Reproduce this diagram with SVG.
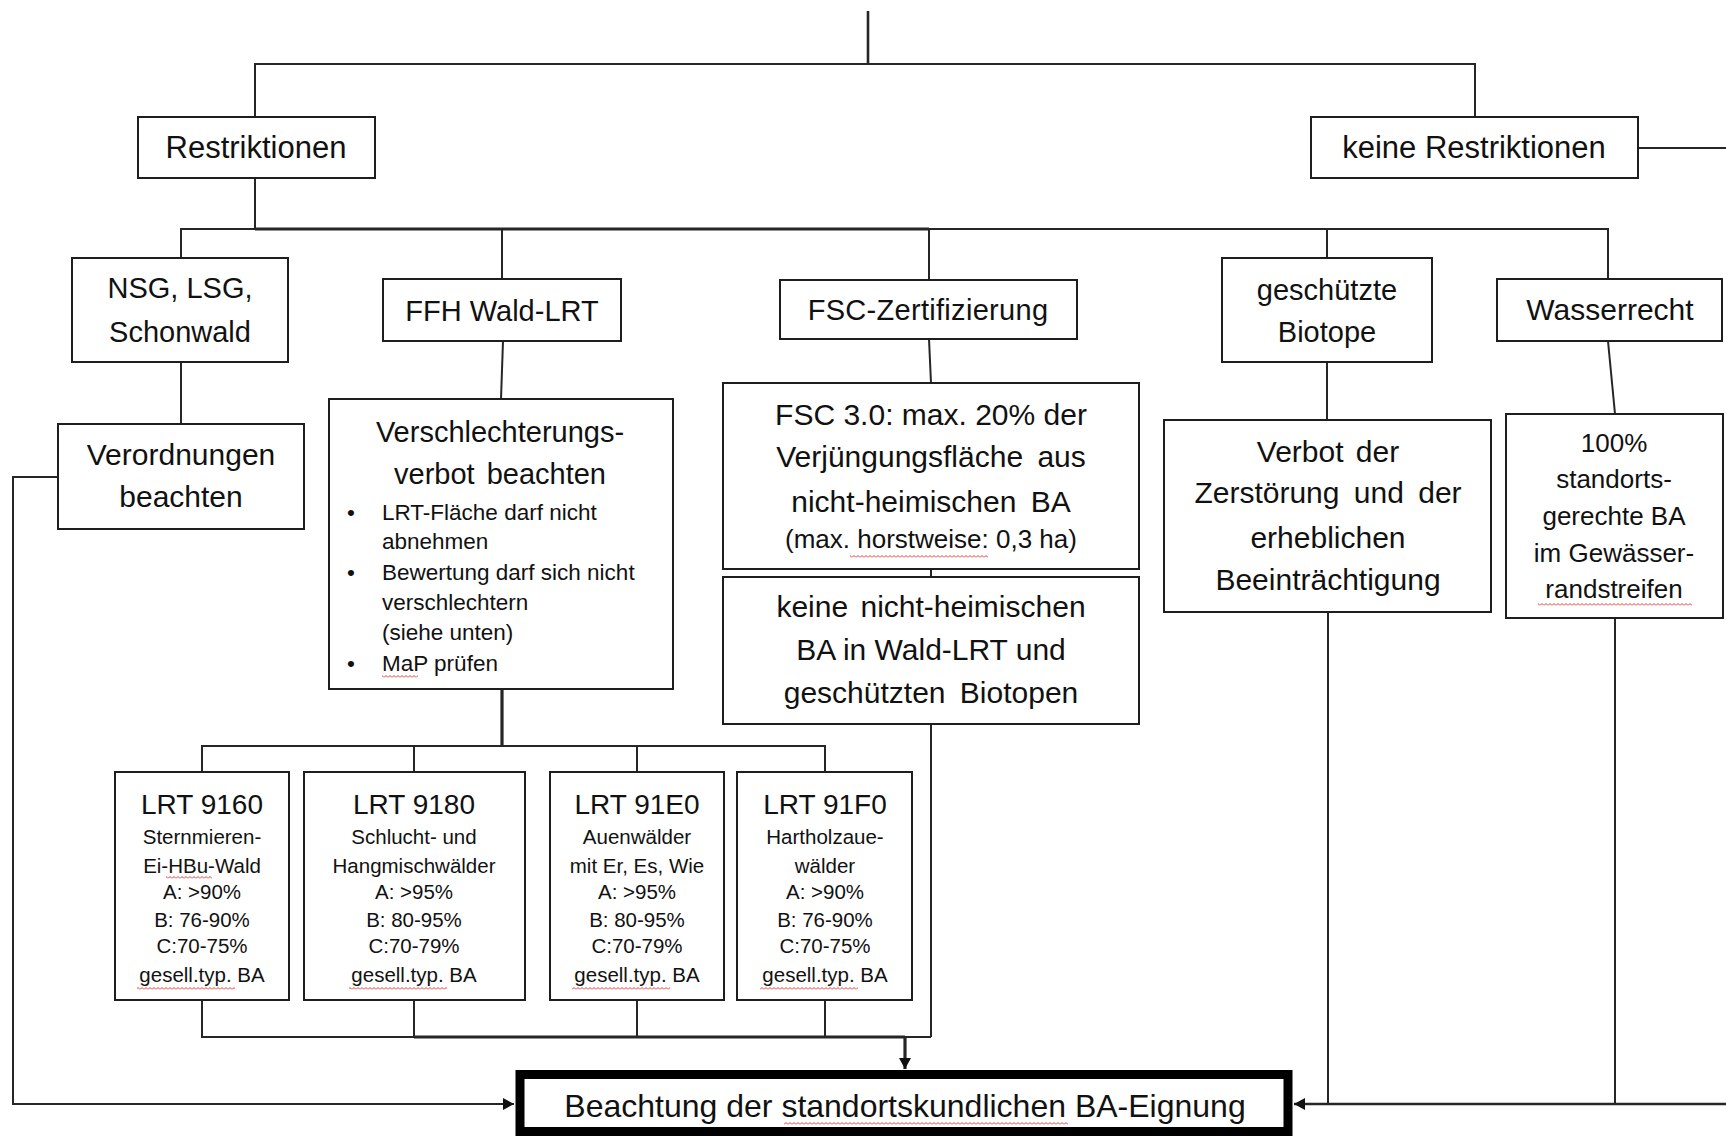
<svg xmlns="http://www.w3.org/2000/svg" width="1726" height="1136" viewBox="0 0 1726 1136">
<style>
.box{fill:#fff;stroke:#1e1e1e;stroke-width:2}
.t{font-family:'Liberation Sans',Arial,sans-serif;fill:#111;text-anchor:middle}
.s31{font-size:31px}
.s30{font-size:30px}
.s29{font-size:29px}
.s27{font-size:27px}
.s28{font-size:28px}
.s26{font-size:26px}
.s25{font-size:25px}
.s22{font-size:22.5px}
.st{font-size:20.5px}
.lft{text-anchor:start}
.c{fill:none;stroke:#262626;stroke-width:2}
.b{stroke-width:3.2}
.sq{fill:url(#sq)}
</style>
<defs>
<marker id="ah" markerUnits="userSpaceOnUse" markerWidth="12" markerHeight="12" refX="11" refY="6" orient="auto">
<path d="M0,0 L11,6 L0,12 z" fill="#111"/>
</marker>
<pattern id="sq" width="4" height="3" patternUnits="userSpaceOnUse">
<path d="M0,2.5 L2,0.5 L4,2.5" fill="none" stroke="#e03a3a" stroke-width="1"/>
</pattern>
</defs>
<rect width="1726" height="1136" fill="#fff"/>

<g id="connectors">
<path class="c" d="M868 11 V64" style="stroke-width:2.6"/>
<path class="c" d="M255 117 V64 H1475 V117"/>
<path class="c" d="M255 178 V229"/>
<path class="c" d="M181 258 V229 H1608 V279"/>
<path class="c b" d="M255 229 H929"/>
<path class="c" d="M502 229 V279"/>
<path class="c" d="M929 229 V280"/>
<path class="c" d="M1327 229 V258"/>
<path class="c" d="M1638 148 H1726"/>
<path class="c" d="M181 362 V424"/>
<path class="c" d="M503 341 L501 399"/>
<path class="c" d="M929 339 L931 383"/>
<path class="c" d="M931 569 V577"/>
<path class="c" d="M931 724 V1037"/>
<path class="c" d="M1327 362 V420"/>
<path class="c" d="M1608 341 L1615 414"/>
<path class="c b" d="M502 689 V746"/>
<path class="c" d="M202 772 V746 H825 V772"/>
<path class="c" d="M414 746 V772"/>
<path class="c" d="M637 746 V772"/>
<path class="c" d="M202 1000 V1037 H931"/>
<path class="c b" d="M414 1037 H905"/>
<path class="c" d="M414 1000 V1037"/>
<path class="c" d="M637 1000 V1037"/>
<path class="c" d="M825 1000 V1037"/>
<path class="c b" d="M905 1037 V1069" marker-end="url(#ah)"/>
<path class="c" d="M58 477 H13 V1104 H514" marker-end="url(#ah)"/>
<path class="c" d="M1328 612 V1104"/>
<path class="c" d="M1615 618 V1104"/>
<path class="c" d="M1726 1104 H1294" style="stroke-width:2.4" marker-end="url(#ah)"/>
</g>

<g id="restriktionen">
<rect class="box" x="138" y="117" width="237" height="61"/>
<text class="t s31" x="256" y="158">Restriktionen</text>
</g>
<g id="keine-restriktionen">
<rect class="box" x="1311" y="117" width="327" height="61"/>
<text class="t s31" x="1474" y="158">keine Restriktionen</text>
</g>
<g id="nsg">
<rect class="box" x="72" y="258" width="216" height="104"/>
<text class="t s29" x="180" y="298">NSG, LSG,</text>
<text class="t s29" x="180" y="342">Schonwald</text>
</g>
<g id="ffh">
<rect class="box" x="383" y="279" width="238" height="62"/>
<text class="t s29" x="502" y="321">FFH Wald-LRT</text>
</g>
<g id="fsc">
<rect class="box" x="780" y="280" width="297" height="59"/>
<text class="t s29" x="928" y="320" style="letter-spacing:0.3px">FSC-Zertifizierung</text>
</g>
<g id="biotope">
<rect class="box" x="1222" y="258" width="210" height="104"/>
<text class="t s29" x="1327" y="300">geschützte</text>
<text class="t s29" x="1327" y="342">Biotope</text>
</g>
<g id="wasserrecht">
<rect class="box" x="1497" y="279" width="225" height="62"/>
<text class="t s30" x="1610" y="320">Wasserrecht</text>
</g>
<g id="verordnungen">
<rect class="box" x="58" y="424" width="246" height="105"/>
<text class="t s30" x="181" y="465">Verordnungen</text>
<text class="t s30" x="181" y="507">beachten</text>
</g>
<g id="verschlechterung">
<rect class="box" x="329" y="399" width="344" height="290"/>
<text class="t s29" x="500" y="442">Verschlechterungs-</text>
<text class="t s29" x="500" y="484" style="word-spacing:4px">verbot beachten</text>
<text class="t s22" x="351" y="520">•</text>
<text class="t s22 lft" x="382" y="520">LRT-Fläche darf nicht</text>
<text class="t s22 lft" x="382" y="549">abnehmen</text>
<text class="t s22" x="351" y="580">•</text>
<text class="t s22 lft" x="382" y="580">Bewertung darf sich nicht</text>
<text class="t s22 lft" x="382" y="610">verschlechtern</text>
<text class="t s22 lft" x="382" y="640">(siehe unten)</text>
<text class="t s22" x="351" y="671">•</text>
<text class="t s22 lft" x="382" y="671">MaP prüfen</text>
<rect class="sq" x="382" y="675" width="36" height="3"/>
</g>
<g id="fsc30">
<rect class="box" x="723" y="383" width="416" height="186"/>
<text class="t s30" x="931" y="425">FSC 3.0: max. 20% der</text>
<text class="t s30" x="931" y="467" style="word-spacing:6px">Verjüngungsfläche aus</text>
<text class="t s30" x="931" y="512" style="word-spacing:6px">nicht-heimischen BA</text>
<text class="t s26" x="931" y="548">(max. horstweise: 0,3 ha)</text>
<rect class="sq" x="850" y="555" width="138" height="3"/>
</g>
<g id="keine-nicht-heimischen">
<rect class="box" x="723" y="577" width="416" height="147"/>
<text class="t s30" x="931" y="617" style="word-spacing:4px">keine nicht-heimischen</text>
<text class="t s30" x="931" y="660">BA in Wald-LRT und</text>
<text class="t s30" x="931" y="703" style="word-spacing:6px">geschützten Biotopen</text>
</g>
<g id="verbot">
<rect class="box" x="1164" y="420" width="327" height="192"/>
<text class="t s30" x="1328" y="462" style="word-spacing:4px">Verbot der</text>
<text class="t s30" x="1328" y="503" style="word-spacing:6px">Zerstörung und der</text>
<text class="t s30" x="1328" y="548">erheblichen</text>
<text class="t s30" x="1328" y="590">Beeinträchtigung</text>
</g>
<g id="gewaesser">
<rect class="box" x="1506" y="414" width="217" height="204"/>
<text class="t s26" x="1614" y="452">100%</text>
<text class="t s26" x="1614" y="488">standorts-</text>
<text class="t s26" x="1614" y="525">gerechte BA</text>
<text class="t s26" x="1614" y="562">im Gewässer-</text>
<text class="t s26" x="1614" y="598">randstreifen</text>
<rect class="sq" x="1538" y="603" width="154" height="3"/>
</g>
<g id="lrt9160">
<rect class="box" x="115" y="772" width="174" height="228"/>
<text class="t s28" x="202" y="814">LRT 9160</text>
<text class="t st" x="202" y="844">Sternmieren-</text>
<text class="t st" x="202" y="873">Ei-HBu-Wald</text>
<text class="t st" x="202" y="899">A: &gt;90%</text>
<text class="t st" x="202" y="927">B: 76-90%</text>
<text class="t st" x="202" y="953">C:70-75%</text>
<text class="t st" x="202" y="982">gesell.typ. BA</text>
<rect class="sq" x="166" y="876" width="46" height="3"/>
<rect class="sq" x="137" y="987" width="98" height="3"/>
</g>
<g id="lrt9180">
<rect class="box" x="304" y="772" width="221" height="228"/>
<text class="t s28" x="414" y="814">LRT 9180</text>
<text class="t st" x="414" y="844">Schlucht- und</text>
<text class="t st" x="414" y="873">Hangmischwälder</text>
<text class="t st" x="414" y="899">A: &gt;95%</text>
<text class="t st" x="414" y="927">B: 80-95%</text>
<text class="t st" x="414" y="953">C:70-79%</text>
<text class="t st" x="414" y="982">gesell.typ. BA</text>
<rect class="sq" x="349" y="987" width="98" height="3"/>
</g>
<g id="lrt91e0">
<rect class="box" x="550" y="772" width="174" height="228"/>
<text class="t s28" x="637" y="814">LRT 91E0</text>
<text class="t st" x="637" y="844">Auenwälder</text>
<text class="t st" x="637" y="873">mit Er, Es, Wie</text>
<text class="t st" x="637" y="899">A: &gt;95%</text>
<text class="t st" x="637" y="927">B: 80-95%</text>
<text class="t st" x="637" y="953">C:70-79%</text>
<text class="t st" x="637" y="982">gesell.typ. BA</text>
<rect class="sq" x="572" y="987" width="98" height="3"/>
</g>
<g id="lrt91f0">
<rect class="box" x="737" y="772" width="175" height="228"/>
<text class="t s28" x="825" y="814">LRT 91F0</text>
<text class="t st" x="825" y="844">Hartholzaue-</text>
<text class="t st" x="825" y="873">wälder</text>
<text class="t st" x="825" y="899">A: &gt;90%</text>
<text class="t st" x="825" y="927">B: 76-90%</text>
<text class="t st" x="825" y="953">C:70-75%</text>
<text class="t st" x="825" y="982">gesell.typ. BA</text>
<rect class="sq" x="760" y="987" width="98" height="3"/>
</g>
<g id="eignung">
<rect x="520" y="1074.5" width="768" height="57" fill="#fff" stroke="#000" stroke-width="9"/>
<text class="t" x="905" y="1117" style="font-size:32px">Beachtung der standortskundlichen BA-Eignung</text>
<rect class="sq" x="784" y="1122" width="284" height="3"/>
</g>
</svg>
